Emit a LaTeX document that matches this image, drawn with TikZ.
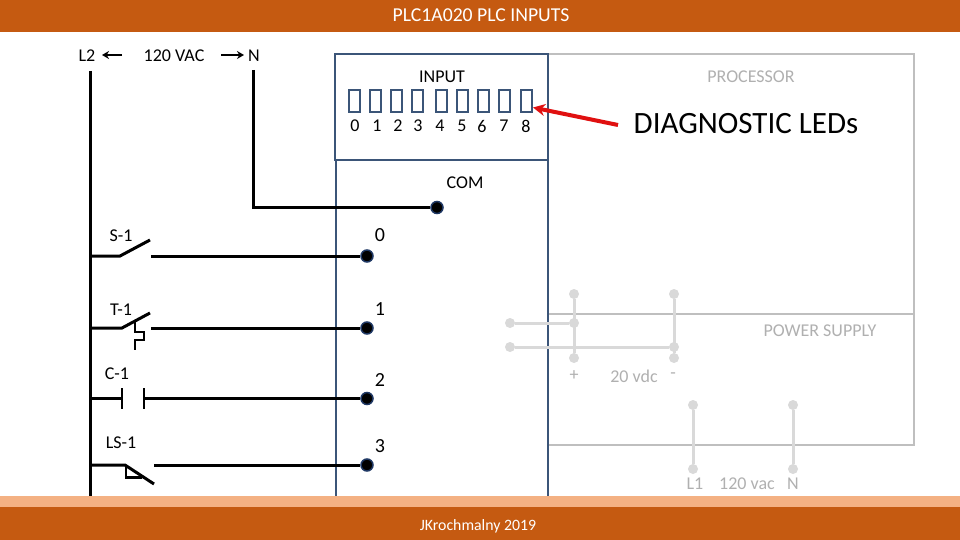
\documentclass[tikz,border=0pt]{standalone}
\usepackage{fontspec}
\setmainfont{Carlito}
\definecolor{barorange}{HTML}{C55A11}
\definecolor{lightorange}{HTML}{F4B183}
\definecolor{navy}{HTML}{3B5578}
\definecolor{dotnavy}{HTML}{1F3864}
\definecolor{framegray}{HTML}{BFBFBF}
\definecolor{wiregray}{HTML}{D9D9D9}
\definecolor{labelgray}{HTML}{B0B0B0}
\definecolor{arrowred}{HTML}{E01010}
\usetikzlibrary{arrows.meta}
\tikzset{
  wire/.style={draw=black,line width=3pt},
  symwire/.style={draw=black,line width=2.5pt},
  arrowwire/.style={draw=black,line width=2.5pt,-{Stealth[length=7pt,width=8pt]}},
  navyline/.style={draw=navy,line width=2.2pt},
  frameline/.style={draw=framegray,line width=2pt},
  graywire/.style={draw=wiregray,line width=3pt},
  term/.style={circle,fill=black,draw=dotnavy,line width=1.5pt,minimum size=12pt,inner sep=0pt},
  gterm/.style={circle,fill=wiregray,minimum size=10pt,inner sep=0pt},
  led/.style={draw=navy,line width=2pt,minimum width=11pt,minimum height=22pt,inner sep=0pt},
  lbl/.style={font=\fontsize{18}{20}\selectfont,text=black,inner sep=0pt},
  inlbl/.style={font=\fontsize{20}{22}\selectfont,text=black,inner sep=0pt},
  glbl/.style={font=\fontsize{18}{20}\selectfont,text=labelgray,inner sep=0pt},
  barlbl/.style={text=white,inner sep=0pt}
}
\begin{document}
\begin{tikzpicture}[x=1pt,y=-1pt]
\useasboundingbox (0,0) rectangle (960,540);
\fill[white] (0,0) rectangle (960,540);
\fill[barorange] (0,0) rectangle (960,32);
\fill[lightorange] (0,496) rectangle (960,507);
\fill[barorange] (0,507) rectangle (960,540);
\node[barlbl,font=\fontsize{19.7}{22}\selectfont] (title) at (481,15) {PLC1A020 PLC INPUTS};
\node[barlbl,font=\fontsize{15.8}{18}\selectfont] (foot) at (478,526) {JKrochmalny 2019};

% processor frame
\draw[frameline] (548,54) -- (914,54) -- (914,445) -- (548,445);
\draw[frameline] (548,314) -- (914,314);
% module
\draw[navyline] (335,54) rectangle (548,160);
\draw[navyline] (336,160) -- (336,496);
\draw[navyline] (548,160) -- (548,496);

\node[lbl] (input) at (442,77) {INPUT};
\node[glbl] (proc) at (751,77) {PROCESSOR};
\node[font=\fontsize{31}{34}\selectfont,text=black,inner sep=0pt] (diag) at (746,124) {DIAGNOSTIC LEDs};
\node[lbl] (com) at (465,183) {COM};

\foreach \n/\x in {0/354,1/375,2/396,3/417.5,4/441.5,5/462.5,6/483.5,7/504.5,8/526}
  \node[led] (led\n) at (\x,101) {};
\foreach \n/\x in {0/355,1/377,2/398,3/418,4/440,5/462,6/482,7/504,8/526}
  \node[lbl] (num\n) at (\x,126) {\n};

\coordinate (arrowstart) at (618,125);
\coordinate (arrowend) at (533,107.5);
\draw[draw=arrowred,line width=4pt,-{Stealth[length=12pt,width=12pt]}] (arrowstart) -- (arrowend);

% supply
\node[lbl] (l2) at (87,56) {L2};
\node[lbl] (vac) at (174,56) {120 VAC};
\node[lbl] (n) at (254,56) {N};
\coordinate (l2a) at (122,55); \coordinate (l2b) at (102,55);
\coordinate (na) at (221,55); \coordinate (nb) at (244,55);
\draw[arrowwire] (l2a) -- (l2b);
\draw[arrowwire] (na) -- (nb);
\coordinate (l2top) at (90,71); \coordinate (l2bot) at (90,496);
\draw[wire] (l2top) -- (l2bot);
\node[term] (tcom) at (437,207.5) {};
\coordinate (ntop) at (253,70);
\draw[wire] (ntop) -- (253,207.5) -- (tcom);

% rungs
\node[term] (t0) at (367,256) {};
\node[term] (t1) at (367,328) {};
\node[term] (t2) at (367,398.5) {};
\node[term] (t3) at (367,465) {};

\node[inlbl] (in0) at (380,235) {0};
\node[inlbl] (in1) at (380,309) {1};
\node[inlbl] (in2) at (380,380) {2};
\node[inlbl] (in3) at (380,446) {3};

\node[lbl] (s1) at (121,236) {S-1};
\node[lbl] (t1l) at (121,310) {T-1};
\node[lbl] (c1) at (117,374) {C-1};
\node[lbl] (ls1) at (121,443) {LS-1};

% S-1
\coordinate (sa) at (120,256); \coordinate (sb) at (150,240); \coordinate (sc) at (151,256);
\draw[wire] (90,256) -- (sa) -- (sb);
\draw[wire] (sc) -- (t0);
% T-1
\coordinate (ta) at (122,328); \coordinate (tb) at (150,313); \coordinate (tc) at (151,328);
\draw[wire] (90,328) -- (ta) -- (tb);
\draw[wire] (tc) -- (t1);
\draw[symwire] (135,322) -- (135,332) -- (144,332) -- (144,340) -- (135,340) -- (135,350);
% C-1
\coordinate (ca) at (122,398.5); \coordinate (cb) at (144,398.5);
\draw[wire] (90,398.5) -- (ca);
\draw[symwire] (122,388) -- (122,409);
\draw[symwire] (144,388) -- (144,409);
\draw[wire] (cb) -- (t2);
% LS-1
\coordinate (la) at (125,465); \coordinate (lb) at (154,484); \coordinate (lc) at (154,465);
\draw[wire] (90,465) -- (la) -- (lb);
\draw[wire] (lc) -- (t3);
\draw[symwire] (126,466) -- (126,477.5) -- (142,477.5);

% power supply wiring
\node[gterm] (p1) at (574,294) {};
\node[gterm] (p2) at (574,323) {};
\node[gterm] (p3) at (574,358) {};
\node[gterm] (m1) at (674,294) {};
\node[gterm] (m2) at (674,347) {};
\node[gterm] (m3) at (674,358) {};
\node[gterm] (w1) at (510,323) {};
\node[gterm] (w2) at (510,347) {};
\node[gterm] (ac1) at (693,405) {};
\node[gterm] (ac2) at (693,469) {};
\node[gterm] (ac3) at (793,405) {};
\node[gterm] (ac4) at (793,469) {};
\draw[graywire] (p1) -- (p3);
\draw[graywire] (m1) -- (m3);
\draw[graywire] (w1) -- (p2);
\draw[graywire] (w2) -- (m2);
\draw[graywire] (ac1) -- (ac2);
\draw[graywire] (ac3) -- (ac4);

\node[glbl] (psu) at (820,331) {POWER SUPPLY};
\node[glbl] (plus) at (574,376) {+};
\node[glbl] (vdc) at (634,376) {20 vdc};
\node[glbl] (minus) at (673,376) {-};
\node[glbl] (lone) at (695,484) {L1};
\node[glbl] (acv) at (747,484) {120 vac};
\node[glbl] (nn) at (793,484) {N};
\end{tikzpicture}
\end{document}
